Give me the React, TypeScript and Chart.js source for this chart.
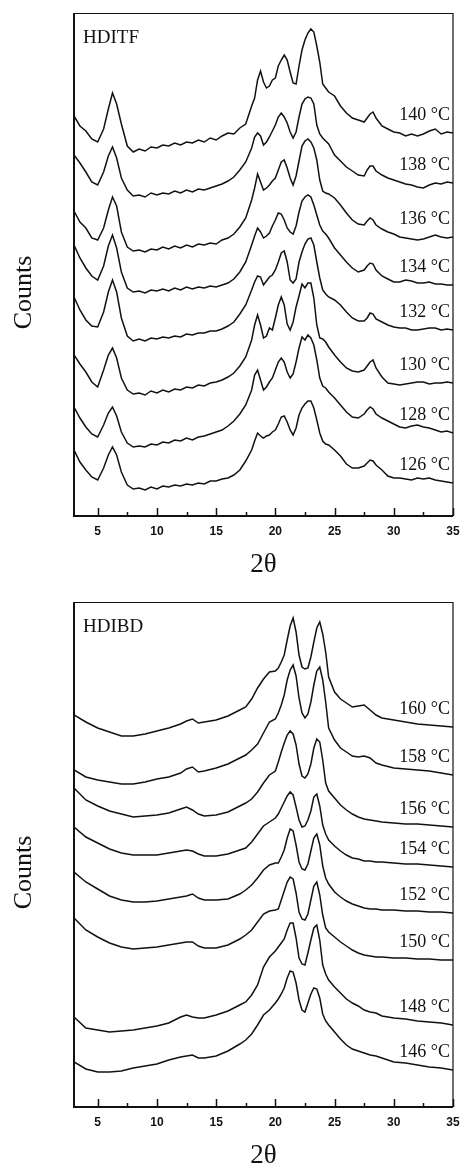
import React, { useEffect, useRef } from "react";
import { Chart, registerables } from "chart.js";

Chart.register(...registerables);

// ---------- shared axis ----------
const xMajorTicks = [5, 10, 15, 20, 25, 30, 35];
const xMinorTicks = [7.5, 12.5, 17.5, 22.5, 27.5, 32.5];

// ---------- HDITF panel (2θ grid and stacked counts, arbitrary units) ----------
const xTop = [
  3, 3.5, 4, 4.5, 5, 5.5, 5.9, 6.25, 6.6, 7, 7.5, 8, 8.5, 9, 9.5, 10, 10.5, 11, 11.5, 12,
  12.5, 13, 13.5, 14, 14.5, 15, 15.5, 16, 16.5, 17, 17.5, 18, 18.25, 18.5, 18.75, 19, 19.25,
  19.5, 19.75, 20, 20.25, 20.5, 20.75, 21, 21.25, 21.5, 21.75, 22, 22.25, 22.5, 22.75, 23,
  23.25, 23.5, 23.75, 24, 24.25, 24.5, 25, 25.5, 26, 26.5, 27, 27.5, 27.75, 28, 28.25, 28.5,
  29, 29.5, 30, 30.5, 31, 31.5, 32, 32.5, 33, 33.5, 34, 34.5, 35,
];
const hditf140 = [
  400, 390, 385, 377, 374, 387, 407, 423, 412, 392, 370, 364, 367, 365, 369, 368, 371, 370, 373, 371,
  374, 373, 376, 374, 378, 376, 380, 383, 382, 388, 392, 410, 418, 436, 445, 434, 428, 430, 436, 438,
  450, 456, 461, 456, 444, 433, 432, 450, 466, 476, 483, 487, 484, 470, 454, 432, 428, 424, 420, 410,
  403, 398, 396, 394, 398, 402, 404, 398, 390, 387, 384, 383, 380, 382, 380, 382, 385, 387, 382, 384, 383,
];
const hditf138 = [
  361, 353, 344, 334, 331, 344, 360, 369, 358, 338, 326, 320, 321, 319, 323, 321, 323, 322, 325, 323,
  326, 324, 327, 326, 328, 330, 332, 335, 339, 346, 354, 368, 379, 383, 380, 371, 374, 379, 385, 391,
  399, 403, 399, 393, 384, 378, 384, 399, 412, 417, 419, 418, 412, 391, 382, 378, 375, 372, 361, 355,
  349, 345, 341, 340, 346, 350, 350, 345, 341, 338, 336, 334, 332, 331, 329, 328, 331, 333, 332, 334, 333,
];
const hditf136 = [
  305, 294, 288, 278, 276, 288, 306, 319, 310, 284, 269, 265, 266, 264, 267, 266, 269, 267, 270, 268,
  271, 269, 272, 271, 273, 272, 276, 278, 282, 289, 298, 316, 328, 342, 334, 326, 328, 331, 335, 338,
  346, 354, 356, 348, 338, 331, 340, 355, 370, 375, 377, 374, 368, 356, 336, 325, 323, 322, 318, 311,
  303, 296, 292, 291, 295, 298, 296, 291, 287, 284, 282, 279, 278, 277, 276, 277, 279, 281, 279, 278, 279,
];
const hditf134 = [
  271, 258, 248, 240, 236, 250, 270, 281, 268, 244, 228, 224, 225, 223, 226, 225, 227, 225, 228, 226,
  229, 227, 229, 228, 230, 229, 231, 233, 237, 244, 254, 271, 280, 288, 284, 278, 280, 283, 290, 296,
  303, 302, 296, 288, 284, 282, 290, 304, 315, 319, 321, 319, 311, 301, 291, 285, 282, 278, 268, 261,
  254, 248, 244, 246, 250, 253, 252, 246, 240, 237, 234, 234, 236, 235, 233, 233, 234, 232, 232, 231, 231,
];
const hditf132 = [
  219, 206, 196, 190, 189, 204, 224, 236, 224, 198, 180, 175, 177, 175, 178, 177, 179, 178, 180, 179,
  182, 181, 183, 183, 185, 185, 187, 190, 194, 202, 211, 226, 234, 240, 239, 231, 235, 239, 241, 246,
  254, 263, 265, 254, 236, 233, 237, 254, 264, 272, 277, 278, 271, 254, 238, 226, 222, 219, 216, 211,
  204, 198, 195, 195, 198, 203, 202, 197, 194, 191, 189, 188, 188, 186, 186, 187, 188, 188, 186, 187, 186,
];
const hditf130 = [
  161, 152, 144, 134, 129, 146, 161, 168, 158, 138, 126, 122, 123, 121, 125, 123, 126, 124, 127, 126,
  129, 128, 131, 130, 133, 134, 136, 139, 143, 150, 159, 176, 191, 201, 191, 178, 180, 188, 186, 198,
  211, 219, 211, 192, 186, 194, 209, 220, 232, 228, 233, 233, 218, 191, 178, 177, 174, 169, 161, 154,
  148, 145, 144, 146, 150, 154, 156, 148, 139, 133, 132, 131, 132, 133, 134, 134, 132, 133, 133, 134, 133,
];
const hditf128 = [
  109, 98, 89, 82, 79, 91, 103, 109, 100, 84, 73, 69, 70, 69, 72, 71, 74, 73, 76, 75,
  78, 76, 79, 80, 82, 84, 86, 90, 95, 102, 111, 126, 141, 146, 136, 126, 129, 134, 138, 146,
  154, 158, 154, 144, 138, 142, 154, 168, 179, 176, 181, 178, 171, 156, 138, 130, 128, 124, 118, 111,
  104, 99, 98, 102, 106, 109, 107, 102, 98, 95, 92, 89, 88, 90, 91, 89, 88, 86, 84, 85, 83,
];
const hditf126 = [
  66, 54, 46, 39, 36, 48, 61, 69, 61, 44, 31, 27, 28, 26, 29, 27, 30, 29, 31, 30,
  32, 31, 33, 32, 35, 35, 37, 38, 41, 46, 55, 66, 75, 83, 80, 78, 80, 81, 84, 86,
  92, 99, 100, 94, 86, 81, 88, 101, 108, 112, 115, 115, 108, 96, 83, 75, 72, 71, 66, 60,
  52, 48, 48, 50, 53, 56, 55, 51, 46, 40, 38, 38, 37, 36, 38, 37, 38, 36, 35, 34, 33,
];
const tempsTop = ["140 °C", "138 °C", "136 °C", "134 °C", "132 °C", "130 °C", "128 °C", "126 °C"];

// ---------- HDIBD panel ----------
const xBot = [
  3, 4, 5, 6, 7, 8, 9, 10, 11, 12, 12.5, 13, 13.5, 14, 15, 16, 17, 17.5, 18, 18.5, 19, 19.5, 20,
  20.25, 20.5, 20.75, 21, 21.25, 21.5, 21.75, 22, 22.25, 22.5, 22.75, 23, 23.25, 23.5, 23.75, 24,
  24.25, 24.5, 25, 25.5, 26, 26.5, 27, 27.5, 28, 28.5, 29, 30, 31, 32, 33, 34, 35,
];
const hdibd160 = [
  392, 385, 379, 375, 371, 371, 373, 376, 379, 383, 386, 388, 384, 385, 387, 391, 397, 400, 408, 419,
  428, 435, 436, 439, 445, 452, 467, 481, 489, 475, 452, 440, 438, 439, 450, 465, 479, 485, 473, 455,
  430, 415, 408, 404, 400, 401, 402, 397, 392, 389, 387, 385, 383, 382, 381, 380,
];
const hdibd158 = [
  337, 330, 327, 325, 323, 323, 325, 328, 330, 334, 338, 340, 335, 336, 339, 343, 349, 352, 357, 363,
  374, 385, 388, 394, 402, 412, 427, 437, 442, 431, 409, 394, 389, 393, 405, 422, 436, 440, 427, 405,
  379, 367, 359, 355, 351, 350, 351, 349, 344, 342, 339, 338, 337, 336, 334, 332,
];
const hdibd156 = [
  319, 307, 301, 296, 293, 290, 291, 292, 294, 298, 300, 297, 293, 291, 292, 295, 301, 304, 308, 315,
  324, 332, 336, 345, 355, 364, 372, 376, 373, 362, 343, 331, 329, 333, 343, 359, 368, 365, 347, 324,
  316, 309, 302, 297, 293, 290, 288, 287, 286, 285, 284, 283, 283, 282, 281, 280,
];
const hdibd154 = [
  280, 270, 264, 258, 254, 252, 252, 252, 254, 256, 257, 256, 253, 251, 251, 253, 257, 259, 265, 273,
  281, 285, 289, 293, 299, 305, 311, 315, 312, 300, 287, 280, 281, 287, 296, 310, 313, 301, 282, 273,
  267, 261, 256, 252, 249, 248, 246, 246, 245, 245, 244, 243, 243, 242, 241, 240,
];
const hdibd152 = [
  235, 225, 218, 211, 207, 205, 205, 206, 208, 210, 211, 213, 209, 207, 207, 208, 213, 217, 222, 229,
  237, 242, 244, 244, 250, 257, 269, 278, 276, 262, 245, 238, 237, 243, 256, 269, 273, 262, 241, 229,
  223, 215, 210, 206, 203, 201, 199, 198, 198, 197, 197, 196, 196, 195, 195, 194,
];
const hdibd150 = [
  189, 177, 170, 164, 160, 158, 159, 160, 162, 164, 165, 165, 161, 159, 159, 162, 168, 172, 177, 185,
  193, 196, 197, 198, 207, 216, 225, 230, 228, 214, 195, 188, 187, 193, 207, 221, 225, 212, 192, 179,
  175, 170, 165, 161, 157, 154, 152, 151, 150, 150, 149, 149, 148, 148, 147, 147,
];
const hdibd148 = [
  90, 79, 77, 75, 76, 77, 79, 81, 84, 90, 92, 90, 89, 89, 92, 96, 102, 105, 112, 122,
  140, 150, 156, 160, 164, 168, 177, 184, 184, 169, 149, 143, 142, 154, 167, 179, 182, 167, 142, 133,
  127, 120, 114, 108, 104, 101, 97, 95, 94, 91, 89, 88, 86, 85, 84, 82,
];
const hdibd146 = [
  45, 38, 35, 35, 36, 39, 41, 43, 47, 50, 51, 52, 49, 49, 51, 56, 63, 67, 73, 82,
  92, 97, 104, 108, 113, 119, 129, 136, 135, 124, 107, 97, 95, 104, 113, 119, 118, 109, 93, 86,
  82, 75, 68, 62, 58, 56, 54, 52, 51, 49, 45, 44, 42, 40, 39, 37,
];
const tempsBot = ["160 °C", "158 °C", "156 °C", "154 °C", "152 °C", "150 °C", "148 °C", "146 °C"];

const SERIF = '"Liberation Serif", "Times New Roman", serif';

const decorPlugin = {
  id: "decor",
  afterDraw(chart: any, _args: any, opts: any) {
    const { ctx, chartArea: a, scales } = chart;
    const xs = scales.x;
    const ys = scales.y;
    ctx.save();
    ctx.strokeStyle = "#111";
    ctx.fillStyle = "#111";
    // frame
    ctx.lineWidth = 1.2;
    ctx.beginPath();
    ctx.moveTo(a.left, a.top + 0.5);
    ctx.lineTo(a.right, a.top + 0.5);
    ctx.moveTo(a.right, a.top);
    ctx.lineTo(a.right, a.bottom);
    ctx.stroke();
    ctx.lineWidth = 2;
    ctx.beginPath();
    ctx.moveTo(a.left, a.top);
    ctx.lineTo(a.left, a.bottom);
    ctx.lineTo(a.right, a.bottom);
    ctx.stroke();
    // inward ticks
    ctx.lineWidth = 1.5;
    ctx.beginPath();
    xMajorTicks.forEach((v) => {
      const px = Math.round(xs.getPixelForValue(v)) + 0.5;
      ctx.moveTo(px, a.bottom);
      ctx.lineTo(px, a.bottom - 8);
    });
    xMinorTicks.forEach((v) => {
      const px = Math.round(xs.getPixelForValue(v)) + 0.5;
      ctx.moveTo(px, a.bottom);
      ctx.lineTo(px, a.bottom - 4);
    });
    ctx.stroke();
    // temperature labels at right end of each curve
    ctx.font = `18px ${SERIF}`;
    ctx.textAlign = "right";
    ctx.textBaseline = "middle";
    chart.data.datasets.forEach((ds: any) => {
      const last = ds.data[ds.data.length - 1].y;
      ctx.fillText(ds.label, a.right - 3, ys.getPixelForValue(last) - 18);
    });
    // panel title
    ctx.textAlign = "left";
    ctx.font = `19px ${SERIF}`;
    ctx.fillText(opts.title, a.left + 9, a.top + 25);
    // axis titles
    ctx.textAlign = "center";
    ctx.font = `27px ${SERIF}`;
    ctx.fillText("2θ", (a.left + a.right) / 2, a.bottom + 49);
    ctx.save();
    ctx.translate(24, (a.top + a.bottom) / 2 + opts.countsShift);
    ctx.rotate(-Math.PI / 2);
    ctx.font = `26px ${SERIF}`;
    ctx.fillText("Counts", 0, 0);
    ctx.restore();
    ctx.restore();
  },
};

type PanelProps = {
  top: number;
  height: number;
  areaTop: number;
  areaBottom: number;
  yMax: number;
  x: number[];
  series: number[][];
  labels: string[];
  title: string;
  countsShift: number;
};

function Panel({ top, height, areaTop, areaBottom, yMax, x, series, labels, title, countsShift }: PanelProps) {
  const ref = useRef<HTMLCanvasElement>(null);
  useEffect(() => {
    const canvas = ref.current;
    if (!canvas) return;
    const chart = new Chart(canvas, {
      type: "line",
      data: {
        datasets: series.map((s, i) => ({
          label: labels[i],
          data: x.map((xv, j) => ({ x: xv, y: s[j] })),
          borderColor: "#111",
          borderWidth: 1.5,
          pointRadius: 0,
          fill: false,
          tension: 0,
        })),
      },
      options: {
        responsive: false,
        animation: false,
        devicePixelRatio: 1,
        layout: { padding: { left: 74, right: 9, top: areaTop, bottom: 0 } },
        plugins: {
          legend: { display: false },
          tooltip: { enabled: false },
          decor: { title, countsShift },
        } as any,
        scales: {
          x: {
            type: "linear",
            min: 3,
            max: 35,
            afterBuildTicks: (s: any) => {
              s.ticks = xMajorTicks.map((v) => ({ value: v }));
            },
            afterFit: (s: any) => {
              s.height = height - areaBottom;
              s.paddingLeft = 0;
              s.paddingRight = 0;
            },
            grid: { display: false, drawTicks: false },
            border: { display: false },
            ticks: {
              padding: 8,
              autoSkip: false,
              maxRotation: 0,
              color: "#111",
              font: { family: '"Liberation Sans", Arial, sans-serif', weight: "bold", size: 12 },
            },
          },
          y: {
            type: "linear",
            display: false,
            min: 0,
            max: yMax,
          },
        },
      } as any,
      plugins: [decorPlugin],
    });
    return () => chart.destroy();
  }, []);
  return (
    <canvas
      ref={ref}
      width={462}
      height={height}
      style={{ position: "absolute", left: 0, top, width: 462, height, display: "block" }}
    />
  );
}

export default function App() {
  return (
    <div style={{ position: "absolute", left: 0, top: 0, width: 462, height: 1167, background: "#fff" }}>
      <Panel
        top={0}
        height={585}
        areaTop={13}
        areaBottom={516}
        yMax={503}
        x={xTop}
        series={[hditf140, hditf138, hditf136, hditf134, hditf132, hditf130, hditf128, hditf126]}
        labels={tempsTop}
        title="HDITF"
        countsShift={28}
      />
      <Panel
        top={585}
        height={582}
        areaTop={17}
        areaBottom={522}
        yMax={505}
        x={xBot}
        series={[hdibd160, hdibd158, hdibd156, hdibd154, hdibd152, hdibd150, hdibd148, hdibd146]}
        labels={tempsBot}
        title="HDIBD"
        countsShift={18}
      />
    </div>
  );
}
